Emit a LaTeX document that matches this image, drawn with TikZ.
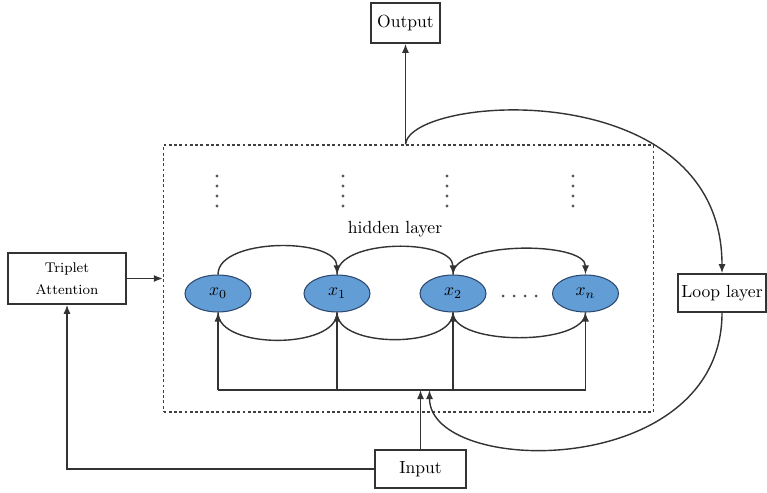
\documentclass[tikz,border=0pt]{standalone}
\usepackage{amsmath, amssymb}
\usepackage{tikz}
\usetikzlibrary{arrows.meta, positioning, shapes.geometric, calc}

\definecolor{cellfill}{RGB}{98,157,214}
\definecolor{celldraw}{RGB}{45,72,110}

\begin{document}
\begin{tikzpicture}[x=0.02cm, y=-0.02cm,
    box/.style={draw, line width=0.9pt, draw=black!80, inner sep=1pt, font=\normalsize},
    cell/.style={ellipse, draw=celldraw, fill=cellfill, semithick, inner sep=0pt, minimum width=1.32cm, minimum height=0.74cm},
    link/.style={line width=0.8pt, draw=black!80},
    arr/.style={link, -{Latex[length=1.8mm, width=1.4mm]}}
]
\useasboundingbox (0,0) rectangle (767,493);

% Hidden layer frame
\node[draw=black!75, dash pattern=on 1.6pt off 1.4pt, line width=0.8pt, inner sep=0pt, minimum width=9.8cm, minimum height=5.34cm] (hidden) at (408.5,278.5) {};
\node[font=\normalsize] (hlabel) at (395,229) {hidden layer};

% Outer boxes
\node[box, minimum width=1.38cm, minimum height=0.8cm] (output) at (405.5,23) {Output};
\node[box, minimum width=1.82cm, minimum height=0.76cm] (input) at (420.5,469) {Input};
\node[box, minimum width=1.76cm, minimum height=0.76cm] (loop) at (722,293) {Loop layer};
\node[box, minimum width=2.36cm, minimum height=1.02cm, align=center, font=\footnotesize] (triplet) at (67,278.5) {Triplet\\[3pt]Attention};

% Hidden units
\node[cell] (x0) at (218,293.5) {$x_0$};
\node[cell] (x1) at (337,293.5) {$x_1$};
\node[cell] (x2) at (453,293.5) {$x_2$};
\node[cell] (xn) at (585.5,293.5) {$x_n$};

% Dots
\foreach \i in {0,...,3}
    \fill[black!70] (503+\i*11,296) circle (1.5);
\foreach \c in {217,343,447,573}
    \foreach \i in {0,...,3}
        \fill[black!65] (\c,176+\i*10) circle (1.6);

% Recurrent links between units
\draw[arr] (x0.north) to[out=90, in=90, looseness=0.8] (x1.north);
\draw[arr] (x1.north) to[out=90, in=90, looseness=0.8] (x2.north);
\draw[arr] (x2.north) to[out=90, in=90, looseness=0.65] (xn.north);
\draw[link] (x0.south) to[out=-90, in=-90, looseness=0.8] (x1.south);
\draw[link] (x1.south) to[out=-90, in=-90, looseness=0.8] (x2.south);
\draw[link] (x2.south) to[out=-90, in=-90, looseness=0.65] (xn.south);

% Input bus
\coordinate (bus) at (0,390);
\draw[link] (x0.south |- bus) -- (xn.south |- bus);
\foreach \n in {x0,x1,x2,xn}
    \draw[arr] (\n.south |- bus) -- (\n.south);
\draw[arr] (input.north) -- (input.north |- bus);

% Attention branch
\draw[arr] (input.west) -| (triplet.south);
\draw[arr] (triplet.east) -- (triplet.east -| hidden.west);

% Output and loop
\draw[arr] (output.south |- hidden.north) -- (output.south);
\draw[arr] (output.south |- hidden.north) .. controls +(5,-50) and +(0,-200) .. (loop.north);
\draw[arr] (loop.south) .. controls +(0,168) and +(0,87) .. ([xshift=0.18cm]input.north |- bus);

\end{tikzpicture}
\end{document}
